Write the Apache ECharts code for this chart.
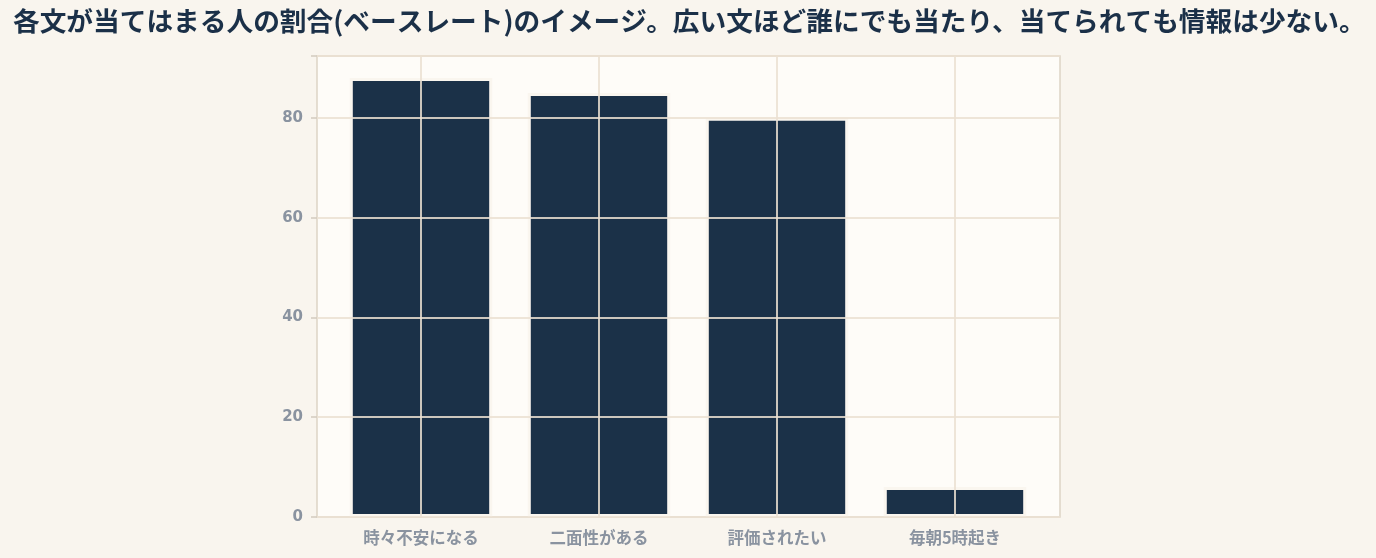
<!DOCTYPE html>
<html>
<head>
<meta charset="utf-8">
<script src="https://cdn.jsdelivr.net/npm/echarts@6/dist/echarts.min.js"></script>
<style>
html,body{margin:0;padding:0;background:#f9f5ee;}
#chart{width:1376px;height:558px;}
</style>
</head>
<body>
<div id="chart"></div>
<script>
const titleText = '各文が当てはまる人の割合(ベースレート)のイメージ。広い文ほど誰にでも当たり、当てられても情報は少ない。';
const categories = ['時々不安になる', '二面性がある', '評価されたい', '毎朝5時起き'];
const values = [88, 85, 80, 6];
const yTicks = [0, 20, 40, 60, 80];
const yMax = 92.4;

const chart = echarts.init(document.getElementById('chart'), null, {renderer: 'canvas'});
const gridColor = 'rgba(235,225,210,0.85)';
const labelColor = '#8a93a0';
chart.setOption({
  backgroundColor: '#f9f5ee',
  animation: false,
  title: {
    text: titleText,
    left: 8, top: 3,
    textStyle: {fontFamily: '"Noto Sans CJK JP"', fontWeight: 'bold', fontSize: 26.7, color: '#1b3048'}
  },
  grid: [
    {left: 317, right: 316, top: 56, bottom: 41, show: true, backgroundColor: '#fefcf8', borderColor: '#ddd3c5', borderWidth: 1.5},
    {left: 332, right: 332, top: 56, bottom: 41, show: false}
  ],
  xAxis: [
    {
      type: 'category', gridIndex: 0, data: categories, show: false
    },
    {
      type: 'category', gridIndex: 1, data: categories, z: 5,
      axisLine: {show: false},
      axisTick: {alignWithLabel: true, length: 5, lineStyle: {color: '#c9c2b8', width: 1.5}},
      splitLine: {show: true, alignWithLabel: true, lineStyle: {color: gridColor, width: 2}},
      axisLabel: {margin: 12, fontFamily: '"Noto Sans CJK JP"', fontWeight: 'bold', fontSize: 16.5, color: labelColor}
    }
  ],
  yAxis: [
    {
      type: 'value', gridIndex: 0, min: 0, max: yMax, interval: 20, z: 5,
      axisLine: {show: false},
      axisTick: {show: true, length: 6, lineStyle: {color: '#d2cabe', width: 1.5}},
      splitLine: {show: true, lineStyle: {color: gridColor, width: 2}},
      axisLabel: {
        margin: 14, fontFamily: 'DejaVu Sans', fontWeight: 'bold', fontSize: 15, color: labelColor,
        formatter: v => yTicks.includes(v) ? String(v) : ''
      }
    },
    {
      type: 'value', gridIndex: 1, min: 0, max: yMax, interval: 20, show: false,
      splitLine: {show: false}
    }
  ],
  series: [{
    type: 'bar',
    xAxisIndex: 1, yAxisIndex: 1,
    data: values,
    barWidth: '80%',
    z: 2,
    itemStyle: {color: '#1b3148', borderColor: '#faf6ef', borderWidth: 3}
  }]
});
</script>
</body>
</html>
